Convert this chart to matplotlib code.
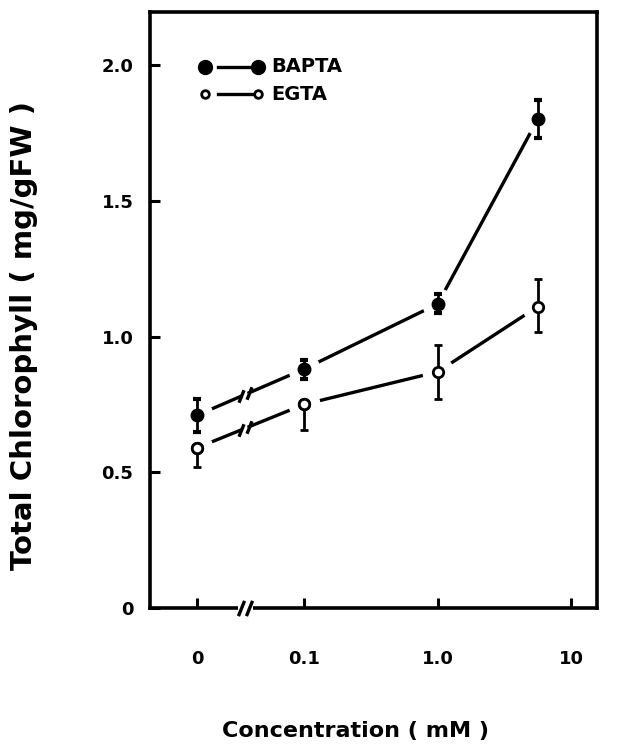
import numpy as np
import matplotlib.pyplot as plt
from matplotlib.ticker import NullLocator

# Concentrations (mM) and chlorophyll values (mg/gFW)
conc = [0, 0.1, 1.0, 5.6]
bapta = [0.71, 0.88, 1.12, 1.80]
bapta_err = [0.06, 0.035, 0.035, 0.07]
egta = [0.59, 0.75, 0.87, 1.11]
egta_err_low = [0.07, 0.095, 0.10, 0.095]
egta_err_up = [0.0, 0.0, 0.10, 0.10]

xticks = [0, 0.1, 1.0, 10]
xticklabels = ["0", "0.1", "1.0", "10"]
yticks = [0, 0.5, 1.0, 1.5, 2.0]
yticklabels = ["0", "0.5", "1.0", "1.5", "2.0"]

ZERO_POS = -1.8      # where "0" sits on the broken log axis
BREAK_C = 0.045      # concentration where the axis break is drawn


def fwd(c):
    c = np.asarray(c, float)
    return np.where(c >= 0.1, np.log10(np.clip(c, 0.1, None)), ZERO_POS + 8 * c)


def inv(p):
    p = np.asarray(p, float)
    return np.where(p >= -1, 10 ** np.clip(p, -1, None), (p - ZERO_POS) / 8)


plt.rcParams["font.family"] = "DejaVu Sans"
plt.rcParams["font.weight"] = "bold"

fig = plt.figure(figsize=(6.39, 7.48), dpi=100)
ax = fig.add_axes([0.235, 0.187, 0.699, 0.797])
ax.set_xscale("function", functions=(fwd, inv))
ax.set_xlim(float(inv(-2.15)), float(inv(1.19)))
ax.set_ylim(0, 2.195)


def broken_line(y, gap=0.03):
    # line from 0 to 0.1 interrupted by "//", then the rest
    pb = float(fwd(BREAK_C))
    p = fwd(conc)
    yl = np.interp(pb - gap, p, y)
    yr = np.interp(pb + gap, p, y)
    cl, cr = float(inv(pb - gap)), float(inv(pb + gap))
    ax.plot([conc[0], cl], [y[0], yl], color="black", lw=2.4, zorder=2)
    ax.plot([cr] + conc[1:], [yr] + list(y[1:]), color="black", lw=2.4, zorder=2)
    ax.plot([cl, cr], [yl, yr], linestyle="none", marker=[(-0.4, -1), (0.4, 1)],
            markersize=9, mew=2.4, color="black", zorder=2)
    # white halo so the line stops short of every marker
    ax.plot(conc, y, linestyle="none", marker="o", markersize=22,
            color="white", zorder=3)


broken_line(bapta)
broken_line(egta)

ax.errorbar(conc, bapta, yerr=bapta_err, fmt="o", color="black", ms=9,
            elinewidth=2, capsize=3, capthick=3, zorder=4)
ax.errorbar(conc, egta, yerr=[egta_err_low, egta_err_up], fmt="o", color="black",
            mfc="white", mec="black", mew=2, ms=7.5,
            elinewidth=2, capsize=3, capthick=3, zorder=4)
# hide the zero-length upper caps
ax.plot(conc[:2], egta[:2], linestyle="none", marker="o", mfc="white",
        mec="black", mew=2, ms=7.5, zorder=5)

# break on the x axis
xb = [float(inv(fwd(BREAK_C) - 0.03)), float(inv(fwd(BREAK_C) + 0.03))]
ax.plot(xb, [0, 0], color="white", lw=5, clip_on=False, zorder=6)
ax.plot(xb, [0, 0], linestyle="none", marker=[(-0.4, -1), (0.4, 1)], markersize=11,
        mew=2.4, color="black", clip_on=False, zorder=7)

# legend drawn by hand in axes coordinates
for yy, face, ms, name in [(0.908, "black", 9, "BAPTA"), (0.862, "white", 5.5, "EGTA")]:
    ax.plot([0.152, 0.228], [yy, yy], color="black", lw=2.4, transform=ax.transAxes)
    ax.plot([0.123, 0.242], [yy, yy], linestyle="none", marker="o", ms=ms,
            mfc=face, mec="black", mew=2, transform=ax.transAxes)
    ax.text(0.272, yy, name, transform=ax.transAxes, fontsize=14,
            fontweight="bold", va="center", ha="left")

ax.set_xticks(xticks)
ax.set_xticklabels(xticklabels)
ax.xaxis.set_minor_locator(NullLocator())
ax.set_yticks(yticks)
ax.set_yticklabels(yticklabels)
ax.tick_params(axis="both", direction="in", length=7, width=2.2, labelsize=13)
ax.tick_params(axis="x", pad=30)
ax.tick_params(axis="y", pad=12)
for s in ax.spines.values():
    s.set_linewidth(2.6)

ax.set_xlabel("Concentration ( mM )", fontsize=16, fontweight="bold")
ax.xaxis.set_label_coords(0.46, -0.19)
ax.set_ylabel("Total Chlorophyll ( mg/gFW )", fontsize=21, fontweight="bold")
ax.yaxis.set_label_coords(-0.25, 0.458)

fig.savefig("out.png", dpi=100)
